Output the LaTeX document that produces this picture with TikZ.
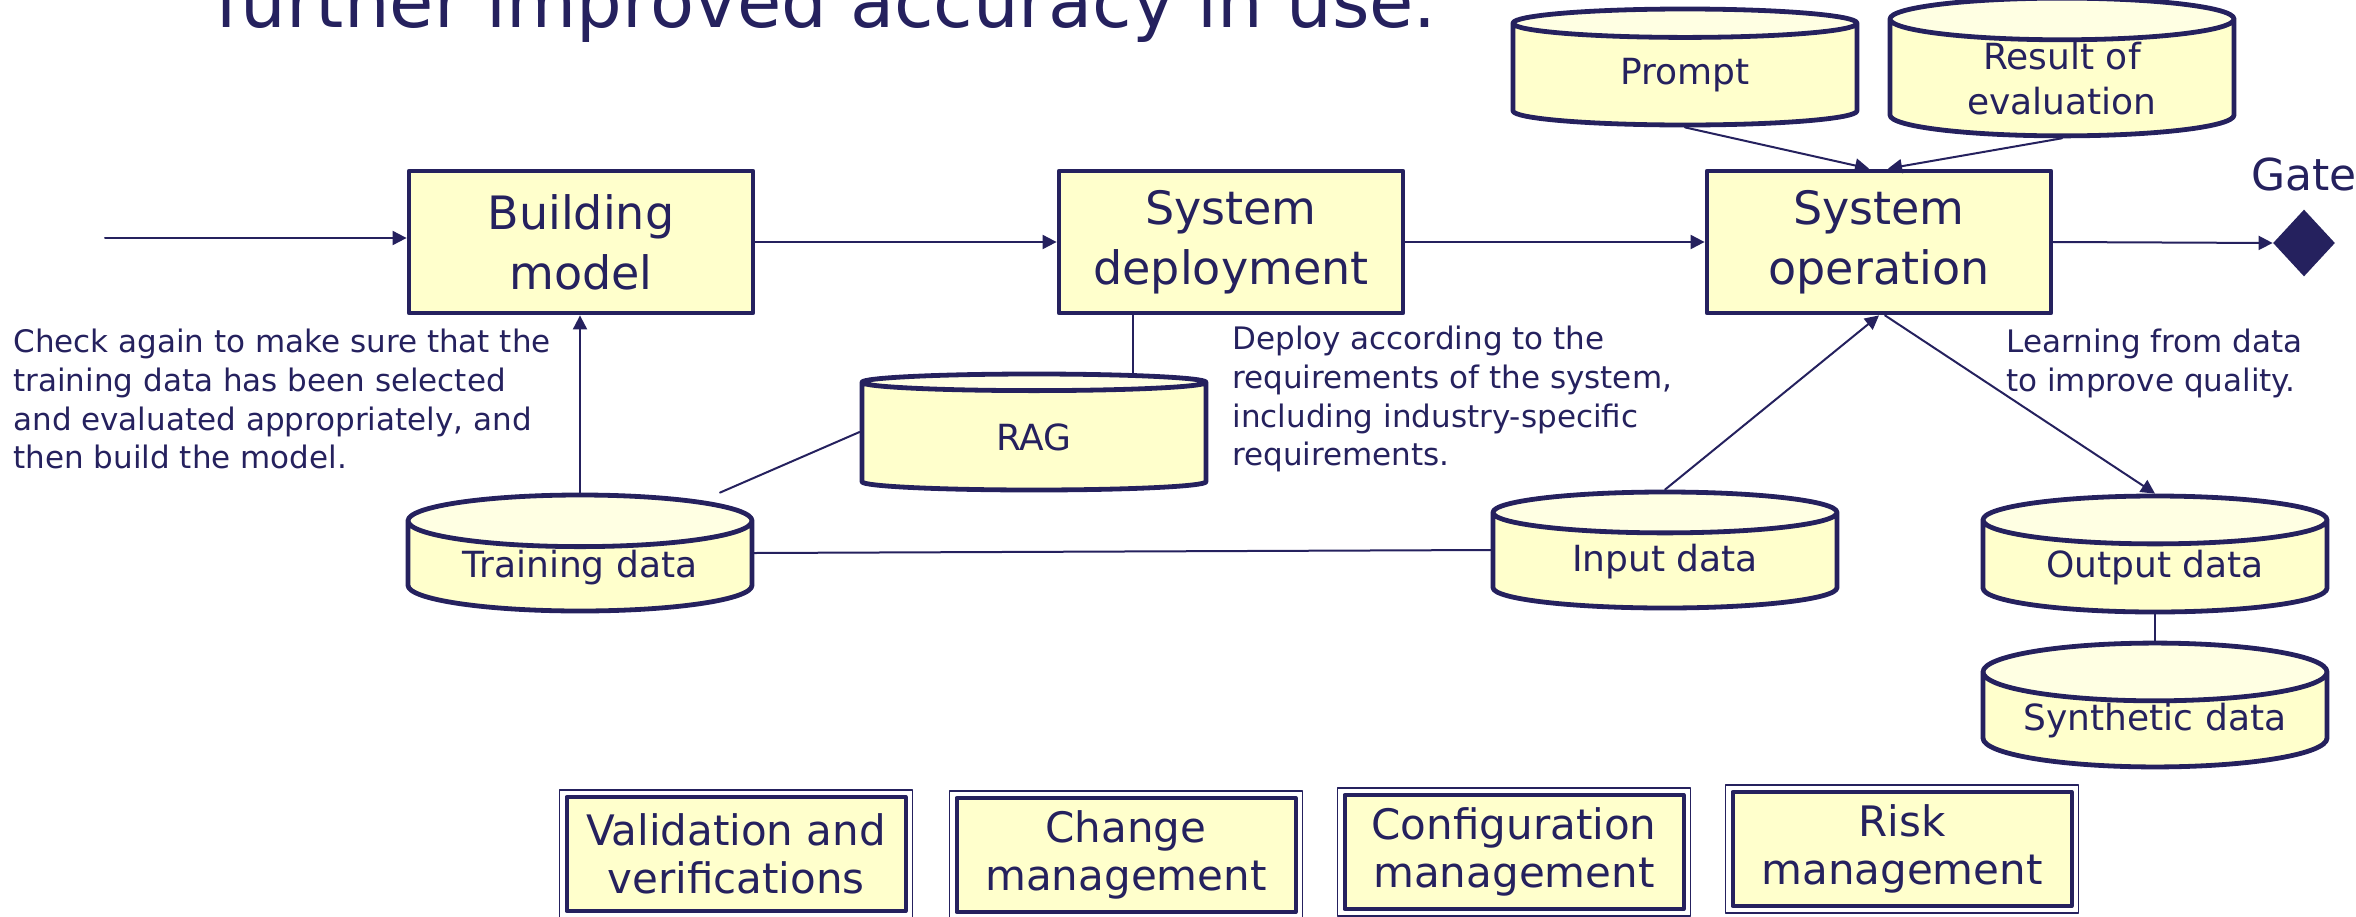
\documentclass[tikz,border=0pt]{standalone}
\usepackage{fontspec}
\setmainfont{DejaVu Sans}
\usepackage{xcolor}
\usetikzlibrary{arrows.meta,calc,positioning,shapes.geometric}

\begin{document}
\begin{tikzpicture}[
  x=0.5pt, y=-0.5pt,
  >={Triangle[length=7pt,width=7pt]},
  line cap=round,
  line join=round,
  stage/.style={draw=lcnavy, line width=2.4pt, fill=lcpale, text=lcnavy,
    minimum width=172pt, minimum height=71pt, inner sep=0pt, align=center,
    font=\fontsize{23}{30}\selectfont},
  store/.style={cylinder, shape border rotate=90, aspect=0.22,
    anchor=shape center,
    draw=lcnavy, line width=2.4pt, cylinder uses custom fill,
    cylinder body fill=lcpale, cylinder end fill=lccap, text=lcnavy,
    minimum width=172pt, minimum height=58pt, inner sep=0pt, align=center,
    font=\fontsize{18}{22.5}\selectfont},
  note/.style={anchor=north west, inner sep=0pt, align=left, text=lcnavy,
    font=\fontsize{15.5}{19.3}\selectfont},
  mgmt/.style={draw=lcnavy, line width=2pt, fill=lcpale, text=lcnavy,
    minimum width=169.5pt, minimum height=57pt, inner sep=0pt, align=center,
    font=\fontsize{21}{24}\selectfont},
  outerframe/.style={draw=lcnavy, line width=0.75pt},
  link/.style={draw=lcnavy, line width=1pt},
  flow/.style={link, ->}
]
\definecolor{lcnavy}{HTML}{25215E}
\definecolor{lcpale}{HTML}{FFFFCC}
\definecolor{lccap}{HTML}{FFFFE3}

\useasboundingbox (0,0) rectangle (2356,916);

% Heading, cut off by the top edge.
\node[anchor=base west, inner sep=0pt, text=lcnavy,
  font=\fontsize{36}{42}\selectfont] (title) at (215,27)
  {further improved accuracy in use.};

% Main stages.
\node[stage] (build) at (581,242) {Building\\model};
\node[stage] (deploy) at (1231,242) {System\\deployment};
\node[stage] (sysop) at (1879,242) {System\\operation};

% Data stores.
\node[store] (prompt) at (1685,67) {Prompt};
\node[store] (result) at (2062,67) {Result of\\evaluation};
\node[store] (rag) at (1034,432) {RAG};
\node[store] (train) at (580,553) {Training data};
\node[store] (input) at (1665,550) {Input data};
\node[store] (output) at (2155,554) {Output data};
\node[store] (synth) at (2155,705) {Synthetic data};

% Gate.
\node[diamond, fill=lcnavy, minimum width=31pt, minimum height=33.5pt,
  inner sep=0pt] (gate) at (2304,243) {};
\node[anchor=base west, inner sep=0pt, text=lcnavy,
  font=\fontsize{22}{26}\selectfont] (gatelabel) at (2251,190) {Gate};

% Notes.
\node[note] (checknote) at (13,329)
  {Check again to make sure that the\\training data has been selected\\and evaluated appropriately, and\\then build the model.};
\node[note] (deploynote) at (1232,326)
  {Deploy according to the\\requirements of the system,\\including industry-specific\\requirements.};
\node[note] (learnnote) at (2006,329)
  {Learning from data\\to improve quality.};

% Management activities.
\node[mgmt] (valid) at (736,854) {Validation and\\verifications};
\node[mgmt] (change) at (1126,855) {Change\\management};
\node[mgmt] (config) at (1514,852) {Configuration\\management};
\node[mgmt] (risk) at (1902,849) {Risk\\management};
\foreach \n in {valid,change,config,risk}{
  \draw[outerframe] ($(\n.north west)+(-2.5pt,2.5pt)$) rectangle
    ($(\n.south east)+(2.5pt,-2.5pt)$);
}

% Connectors.
\coordinate (entry) at (105,238);
\draw[flow] (entry) -- (entry -| build.west);
\draw[flow] (build.east) -- (deploy.west);
\draw[flow] (deploy.east) -- (sysop.west);
\draw[flow] (sysop.east) -- (gate.west);
\draw[flow] (prompt.south) -- ($(sysop.north)+(-5pt,0)$);
\draw[flow] (result.south) -- ($(sysop.north)+(4.5pt,0)$);
\draw[flow] (train.north) -- (train.north |- build.south);
\draw[link] ($(train.north)+(70pt,0)$) -- (rag.west |- rag.shape center);
\draw[link] ($(deploy.south)+(-49pt,0)$) -- ($(rag.north)+(49.5pt,-1pt)$);
\draw[link] (train.east |- train.shape center) -- (input.west |- input.shape center);
\draw[flow] (input.north) -- (sysop.south);
\draw[flow] ($(sysop.south)+(3pt,0)$) -- (output.north);
\draw[link] (output.south) -- (synth.north);
\end{tikzpicture}
\end{document}
